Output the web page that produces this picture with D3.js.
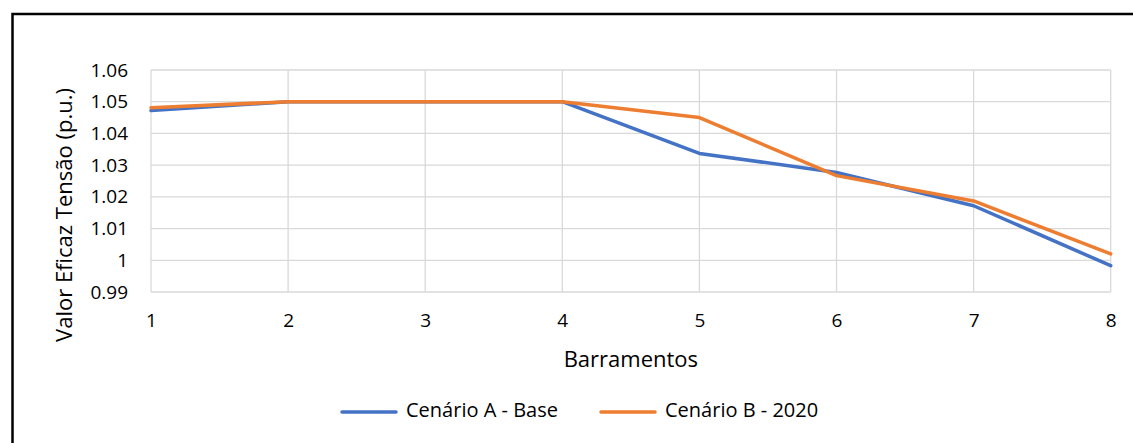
<!DOCTYPE html>
<html>
<head>
<meta charset="utf-8">
<script src="https://cdn.jsdelivr.net/npm/d3@7"></script>
<style>
  html, body { margin: 0; padding: 0; background: #fff; }
  svg { display: block; font-family: "Open Sans", sans-serif; }
</style>
</head>
<body>
<svg id="chart" width="1133" height="443"></svg>
<script>
const categories = [1, 2, 3, 4, 5, 6, 7, 8];
const seriesA = [1.0472, 1.0500, 1.0500, 1.0500, 1.0337, 1.0277, 1.0172, 0.9983];
const seriesB = [1.0481, 1.0500, 1.0500, 1.0500, 1.0450, 1.0267, 1.0187, 1.0020];
const seriesNames = ["Cenário A - Base", "Cenário B - 2020"];
const yTicks = [0.99, 1.00, 1.01, 1.02, 1.03, 1.04, 1.05, 1.06];
const yTickLabels = ["0.99", "1", "1.01", "1.02", "1.03", "1.04", "1.05", "1.06"];
const xTitle = "Barramentos";
const yTitle = "Valor Eficaz Tensão (p.u.)";
const colors = ["#4472C4", "#ED7D31"];

(function () {
const svg = d3.select("#chart");
const pL = 151, pR = 1110.7, pT = 70, pB = 292;

// outer frame
svg.append("rect").attr("x", 12.5).attr("y", 14).attr("width", 1200).attr("height", 600)
  .attr("fill", "none").attr("stroke", "#000").attr("stroke-width", 2.5);

const x = d3.scaleLinear().domain([1, 8]).range([pL, pR]);
const y = d3.scaleLinear().domain([0.99, 1.06]).range([pB, pT]);

// gridlines
const g = svg.append("g");
g.selectAll(".hg").data(yTicks).join("line")
  .attr("x1", pL).attr("x2", pR)
  .attr("y1", d => y(d)).attr("y2", d => y(d))
  .attr("stroke", "#d9d9d9").attr("stroke-width", 1.3);
g.selectAll(".vg").data(categories).join("line")
  .attr("x1", d => x(d)).attr("x2", d => x(d))
  .attr("y1", pT).attr("y2", pB)
  .attr("stroke", "#d9d9d9").attr("stroke-width", 1.3);

// y axis labels
const yAxis = d3.axisLeft(y).tickValues(yTicks)
  .tickFormat((d, i) => yTickLabels[i]).tickSize(0).tickPadding(23);
const ya = svg.append("g").attr("transform", `translate(${pL},0)`).call(yAxis);
ya.select(".domain").remove();
ya.selectAll("text").attr("font-size", 19).attr("fill", "#000")
  .attr("font-family", "Open Sans, sans-serif");

// x axis labels
const xAxis = d3.axisBottom(x).tickValues(categories).tickFormat(d3.format("d"))
  .tickSize(0).tickPadding(22);
const xa = svg.append("g").attr("transform", `translate(0,${pB})`).call(xAxis);
xa.select(".domain").remove();
xa.selectAll("text").attr("font-size", 19).attr("fill", "#000")
  .attr("font-family", "Open Sans, sans-serif");

// lines
const line = d3.line().x((d, i) => x(categories[i])).y(d => y(d));
[seriesA, seriesB].forEach((s, k) => {
  svg.append("path").datum(s).attr("d", line)
    .attr("fill", "none").attr("stroke", colors[k]).attr("stroke-width", 3.5)
    .attr("stroke-linejoin", "round").attr("stroke-linecap", "round");
});

// titles
svg.append("text").attr("x", (pL + pR) / 2).attr("y", 361)
  .attr("text-anchor", "middle").attr("dominant-baseline", "middle")
  .attr("font-size", 22).attr("fill", "#000").text(xTitle);
svg.append("text").attr("transform", "translate(72,215) rotate(-90)")
  .attr("text-anchor", "middle")
  .attr("font-size", 22).attr("fill", "#000").text(yTitle);

// legend
const legX = [342, 601];
seriesNames.forEach((n, k) => {
  svg.append("line").attr("x1", legX[k]).attr("x2", legX[k] + 54)
    .attr("y1", 412).attr("y2", 412)
    .attr("stroke", colors[k]).attr("stroke-width", 3.5).attr("stroke-linecap", "round");
  svg.append("text").attr("x", legX[k] + 64).attr("y", 412)
    .attr("dominant-baseline", "middle").attr("font-size", 20).attr("fill", "#000").text(n);
});
})();
</script>
</body>
</html>
